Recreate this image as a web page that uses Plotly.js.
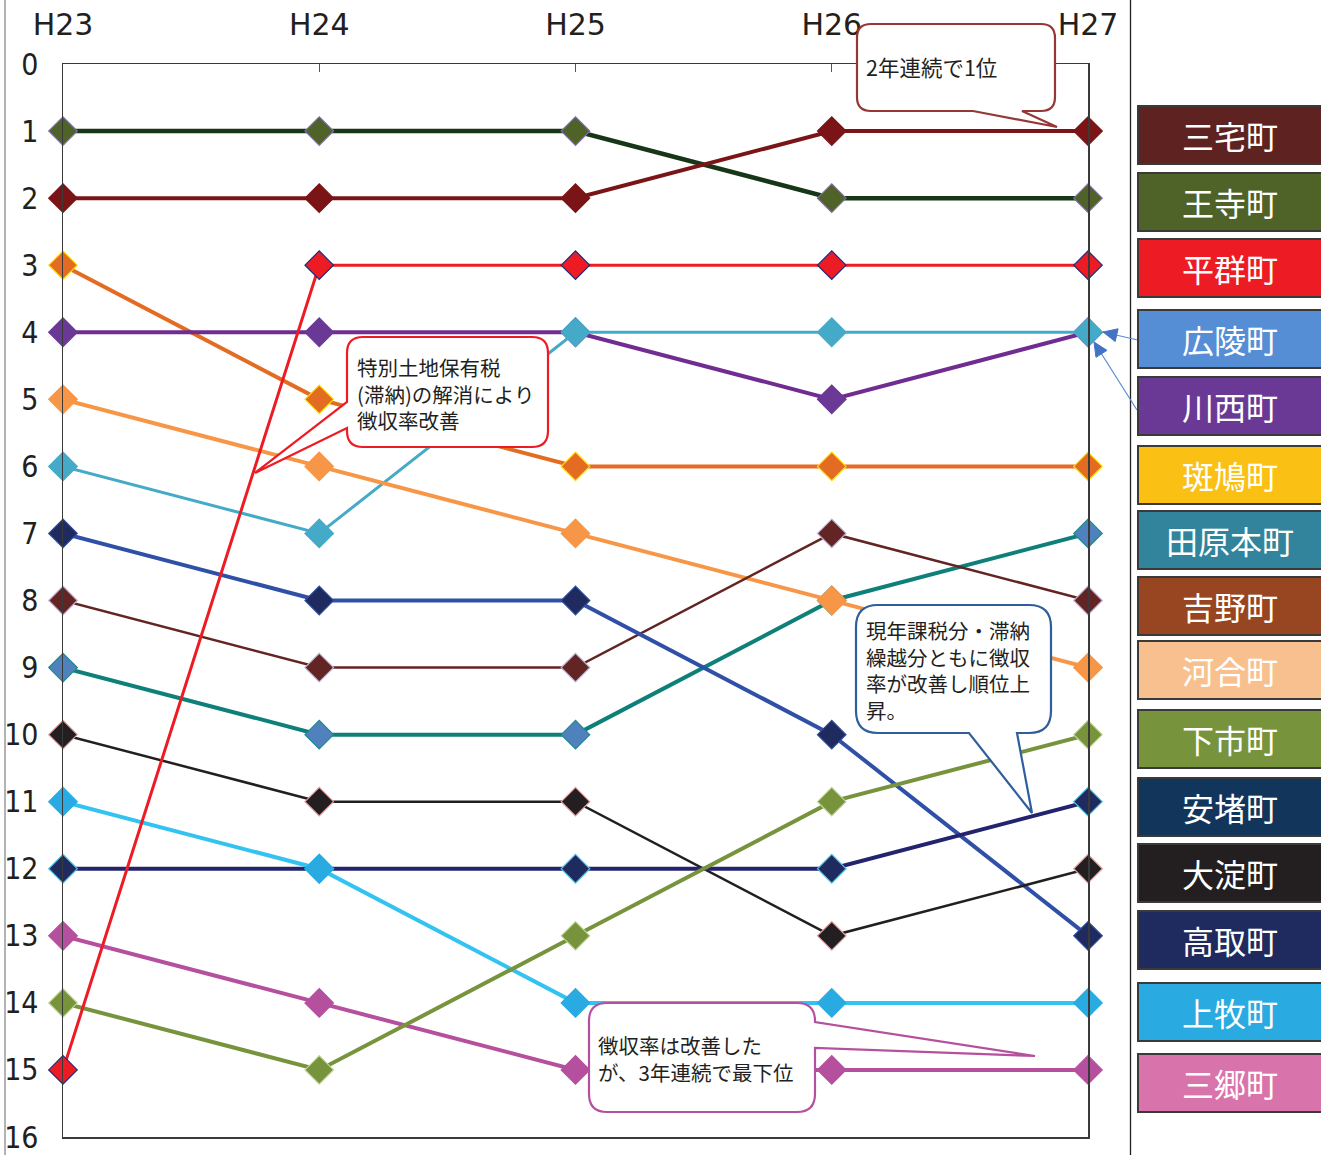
<!DOCTYPE html>
<html>
<head>
<meta charset="utf-8">
<script src="https://cdn.plot.ly/plotly-3.0.1.min.js"></script>
<style>html,body{margin:0;padding:0;background:#fff;}#chart{width:1321px;height:1155px;}</style>
</head>
<body>
<div id="chart"></div>
<script>
// ---------- DATA ----------
const years = ['H23', 'H24', 'H25', 'H26', 'H27'];
const towns = ['三宅町', '王寺町', '平群町', '広陵町', '川西町', '斑鳩町', '田原本町', '吉野町', '河合町', '下市町', '安堵町', '大淀町', '高取町', '上牧町', '三郷町'];
const rankMiyake     = [2, 2, 2, 1, 1];
const rankOji        = [1, 1, 1, 2, 2];
const rankHeguri     = [15, 3, 3, 3, 3];
const rankKoryo      = [6, 7, 4, 4, 4];
const rankKawanishi  = [4, 4, 4, 5, 4];
const rankIkaruga    = [3, 5, 6, 6, 6];
const rankTawaramoto = [9, 10, 10, 8, 7];
const rankYoshino    = [8, 9, 9, 7, 8];
const rankKawai      = [5, 6, 7, 8, 9];
const rankShimoichi  = [14, 15, 13, 11, 10];
const rankAndo       = [12, 12, 12, 12, 11];
const rankOyodo      = [10, 11, 11, 13, 12];
const rankTakatori   = [7, 8, 8, 10, 13];
const rankKanmaki    = [11, 12, 14, 14, 14];
const rankSango      = [13, 14, 15, 15, 15];
const rankTicks = [0, 1, 2, 3, 4, 5, 6, 7, 8, 9, 10, 11, 12, 13, 14, 15, 16];

const note1 = ['2年連続で1位'];
const note2 = ['特別土地保有税', '(滞納)の解消により', '徴収率改善'];
const note3 = ['現年課税分・滞納', '繰越分ともに徴収', '率が改善し順位上', '昇。'];
const note4 = ['徴収率は改善した', 'が、3年連続で最下位'];

// ---------- STYLES ----------
const legendColors = ['#5E2320', '#4F6228', '#ED1C24', '#558ED5', '#6A3996', '#FBC014', '#31849B', '#984522', '#F9C08F', '#77933C', '#12355C', '#231F20', '#1F2A5E', '#29ABE2', '#D874AB'];
// per town (legend order): line color, line width, marker color, marker border
const lineColors  = ['#7B1416', '#173617', '#ED1C24', '#45AAC8', '#702C90', '#E46C22', '#0E8079', '#632523', '#F79646', '#77933C', '#24246E', '#231F20', '#3050A8', '#33C3F0', '#B5509E'];
const lineWidths  = [4, 4.5, 3, 3, 4, 4, 4, 2.5, 4, 4, 4, 2.5, 4, 4, 4];
const markColors  = ['#7B1416', '#4F6228', '#ED1C24', '#45AAC8', '#6A3996', '#E46C22', '#4F81BD', '#632523', '#F79646', '#77933C', '#1F2A5E', '#231F20', '#1F2A5E', '#29ABE2', '#B5509E'];
const markBorders = ['#7B1416', '#7F6FA8', '#1F2A7A', '#45AAC8', '#6A3996', '#FFE000', '#1F8A8A', '#C0B0D0', '#F79646', '#C3D69B', '#4BC0E0', '#E0A0A0', '#2E4DA0', '#29ABE2', '#B5509E'];
const legendTops = [106, 173, 239, 310, 377, 446, 511, 577, 641, 710, 778, 844, 911, 983, 1054];

const seriesRanks = [rankMiyake, rankOji, rankHeguri, rankKoryo, rankKawanishi, rankIkaruga, rankTawaramoto, rankYoshino, rankKawai, rankShimoichi, rankAndo, rankOyodo, rankTakatori, rankKanmaki, rankSango];

// draw order (平群町 last so it sits on top)
const drawOrder = [1, 0, 5, 4, 3, 6, 8, 7, 12, 11, 10, 13, 14, 9, 2];

const traces = drawOrder.map(i => ({
  type: 'scatter', mode: 'lines+markers', name: towns[i],
  x: years, y: seriesRanks[i],
  line: {color: lineColors[i], width: lineWidths[i]},
  marker: {symbol: 'diamond', size: 22, color: markColors[i], line: {color: markBorders[i], width: 1.2}},
  cliponaxis: false, showlegend: false, hoverinfo: 'x+y+name'
}));

// ---------- GEOMETRY HELPERS (pixel -> paper) ----------
const L = 63, R = 1088, T = 64, B = 1137;
const fx = x => (x - L) / (R - L);
const fy = y => (B - y) / (B - T);
const P = (x, y) => fx(x).toFixed(5) + ',' + fy(y).toFixed(5);

function callout(x0, y0, x1, y1, r, side, b1, b2, tx, ty) {
  let d = 'M' + P(x0 + r, y0) + ' L' + P(x1 - r, y0) + ' Q' + P(x1, y0) + ' ' + P(x1, y0 + r);
  if (side === 'right') d += ' L' + P(x1, b1) + ' L' + P(tx, ty) + ' L' + P(x1, b2);
  d += ' L' + P(x1, y1 - r) + ' Q' + P(x1, y1) + ' ' + P(x1 - r, y1);
  if (side === 'bottom') d += ' L' + P(b2, y1) + ' L' + P(tx, ty) + ' L' + P(b1, y1);
  d += ' L' + P(x0 + r, y1) + ' Q' + P(x0, y1) + ' ' + P(x0, y1 - r);
  if (side === 'left') d += ' L' + P(x0, b2) + ' L' + P(tx, ty) + ' L' + P(x0, b1);
  d += ' L' + P(x0, y0 + r) + ' Q' + P(x0, y0) + ' ' + P(x0 + r, y0) + ' Z';
  return d;
}

const shapes = [];
const annotations = [];

// page border lines
shapes.push({type: 'line', xref: 'paper', yref: 'paper', x0: fx(5), x1: fx(5), y0: fy(-5), y1: fy(1160), line: {color: '#9A9A9A', width: 1.5}});
shapes.push({type: 'line', xref: 'paper', yref: 'paper', x0: fx(1130.5), x1: fx(1130.5), y0: fy(-5), y1: fy(1160), line: {color: '#231F20', width: 1.3}});

// callouts
const callouts = [
  {box: [857, 24, 1055, 111, 14, 'bottom', 973, 1022, 1057, 127], color: '#953735', lines: note1, tx: 865, ty: 67, size: 21.5},
  {box: [347, 337, 548, 447, 16, 'left', 402, 428, 255, 473], color: '#ED1C24', lines: note2, tx: 356, ty: 393, size: 20.5},
  {box: [856, 605, 1051, 733, 22, 'bottom', 969, 1017, 1032, 813], color: '#2F5F9A', lines: note3, tx: 865, ty: 670, size: 20.5},
  {box: [589, 1003, 815, 1112, 18, 'right', 1022, 1048, 1035, 1056], color: '#B5509E', lines: note4, tx: 597, ty: 1058, size: 20.5}
];
callouts.forEach(c => {
  shapes.push({type: 'path', xref: 'paper', yref: 'paper', layer: 'above',
    path: callout.apply(null, c.box), fillcolor: '#FFFFFF', line: {color: c.color, width: 2.2}});
  annotations.push({
    xref: 'paper', yref: 'paper', x: fx(c.tx), y: fy(c.ty), xanchor: 'left', yanchor: 'middle', align: 'left',
    text: c.lines.join('<br>'), showarrow: false, borderpad: 0,
    font: {family: 'Noto Sans CJK JP, sans-serif', size: c.size, color: '#231F20'}
  });
});

// arrows from legend to H27 rank-4 points
function arrow(tx0, ty0, px, py) {
  shapes.push({type: 'line', xref: 'paper', yref: 'paper', x0: fx(tx0), y0: fy(ty0), x1: fx(px), y1: fy(py), line: {color: '#5B8BD0', width: 1.2}});
  const dx = px - tx0, dy = py - ty0, len = Math.hypot(dx, dy);
  const ux = dx / len, uy = dy / len, nx = -uy, ny = ux, hl = 14, hw = 6.5;
  const bx = px - hl * ux, by = py - hl * uy;
  shapes.push({type: 'path', xref: 'paper', yref: 'paper', layer: 'above',
    path: 'M' + P(px, py) + ' L' + P(bx + hw * nx, by + hw * ny) + ' L' + P(bx - hw * nx, by - hw * ny) + ' Z',
    fillcolor: '#4472C4', line: {color: '#4472C4', width: 1}});
}
arrow(1142, 341, 1103, 332);
arrow(1137, 410, 1094, 342);

// legend boxes
towns.forEach((t, i) => {
  const top = legendTops[i];
  shapes.push({type: 'rect', xref: 'paper', yref: 'paper', layer: 'above',
    x0: fx(1138), x1: fx(1330), y0: fy(top), y1: fy(top + 58),
    fillcolor: legendColors[i], line: {color: '#3A3A3A', width: 2}});
  annotations.push({xref: 'paper', yref: 'paper', x: fx(1230), y: fy(top + 29), xanchor: 'center', yanchor: 'middle',
    text: t, showarrow: false, borderpad: 0,
    font: {family: 'Noto Sans CJK JP, sans-serif', size: 32, color: '#FFFFFF'}});
});

const layout = {
  width: 1321, height: 1155,
  margin: {l: L, r: 1321 - R, t: T, b: 1155 - B, pad: 0},
  paper_bgcolor: '#FFFFFF', plot_bgcolor: '#FFFFFF',
  showlegend: false,
  xaxis: {
    type: 'category', range: [0, 4], side: 'top',
    showline: true, mirror: true, linecolor: '#3A3A3A', linewidth: 1.5,
    ticks: 'inside', ticklen: 8, tickcolor: '#555555', tickwidth: 1,
    showgrid: false, zeroline: false, ticklabelstandoff: 16,
    tickfont: {family: 'DejaVu Sans, sans-serif', size: 30, color: '#231F20'}
  },
  yaxis: {
    range: [16, 0], tickmode: 'array', tickvals: rankTicks, ticktext: rankTicks.map(String),
    showline: true, mirror: true, linecolor: '#3A3A3A', linewidth: 1.5,
    ticks: '', showgrid: false, zeroline: false, ticklabelstandoff: 17,
    tickfont: {family: 'Liberation Sans Narrow, DejaVu Sans Condensed, sans-serif', size: 30, color: '#231F20'}
  },
  shapes: shapes,
  annotations: annotations
};

Plotly.newPlot('chart', traces, layout, {displayModeBar: false, staticPlot: true});
</script>
</body>
</html>
